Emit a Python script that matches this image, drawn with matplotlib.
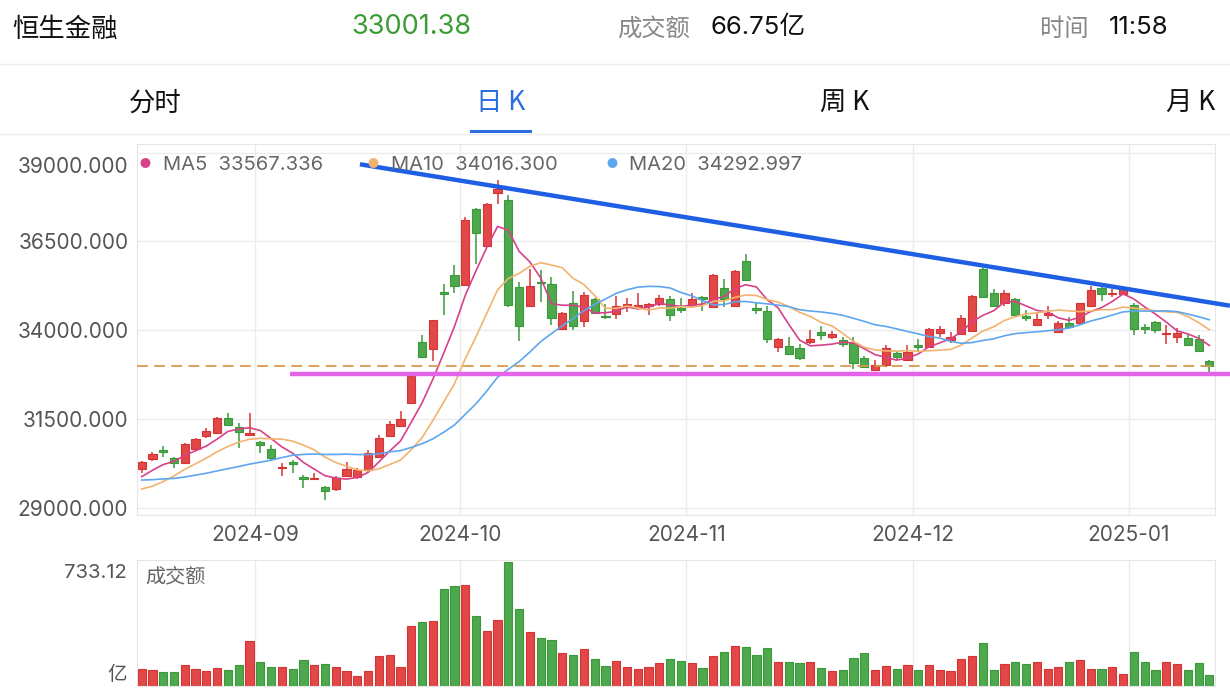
import numpy as np
import pandas as pd
import matplotlib
matplotlib.use("Agg")
import matplotlib.pyplot as plt
import matplotlib.transforms as mtransforms

plt.rcParams["font.family"] = ["Inter", "Noto Sans CJK SC", "DejaVu Sans"]
CJK = ["Noto Sans CJK SC", "DejaVu Sans"]

W, H = 1230, 694

# daily candles, 2024-08-16 .. 2025-01-13 (index based, no gaps)
opens = [30080, 30371, 30624, 30390, 30268, 30643, 31019, 31103, 31535, 31282,
         31056, 30859, 30653, 30108, 30277, 29873, 29798, 29592, 29526, 29892,
         29855, 30061, 30437, 31019, 31301, 31939, 33676, 33479, 35066, 35545,
         35273, 37423, 36381, 37855, 37667, 35226, 34690, 35348, 35301, 34033,
         34775, 34268, 34878, 34399, 34446, 34662, 34662, 34690, 34728, 34878,
         34615, 34690, 34944, 34662, 35179, 34690, 35958, 34615, 34540, 33535,
         33554, 33488, 33676, 33949, 33798, 33723, 33648, 33207, 32878, 33019,
         33348, 33160, 33573, 33535, 33930, 33723, 33892, 33977, 35723, 35057,
         34756, 34878, 34409, 34146, 34427, 33958, 34193, 34211, 34690, 35179,
         35019, 35010, 34709, 34080, 34240, 33892, 33817, 33770, 33751, 33141]
highs = [30324, 30559, 30737, 30437, 30812, 30953, 31235, 31545, 31657, 31376,
         31657, 30878, 30765, 30268, 30343, 29920, 29986, 29610, 29892, 30277,
         30108, 30624, 31047, 31451, 31732, 32784, 33864, 34286, 35301, 35827,
         37179, 37451, 37573, 38231, 37808, 35366, 35714, 35695, 35507, 34521,
         35113, 35085, 34897, 34728, 34963, 34897, 35038, 34775, 34991, 34963,
         34897, 35038, 34972, 35570, 35432, 35695, 36136, 34756, 34690, 33770,
         33817, 33601, 34005, 34118, 33977, 33817, 33817, 33273, 33160, 33582,
         33423, 33582, 33742, 34070, 34118, 33958, 34427, 34981, 35761, 35160,
         35132, 34897, 34568, 34474, 34690, 34258, 34380, 34775, 35244, 35226,
         35150, 35254, 34756, 34174, 34258, 34146, 34052, 33864, 33864, 33160]
lows = [29986, 30324, 30437, 30130, 30268, 30606, 30953, 31094, 31320, 30671,
        31038, 30531, 30324, 29892, 29986, 29545, 29798, 29216, 29479, 29873,
        29798, 30014, 30390, 31000, 31282, 31939, 33207, 33141, 34427, 35057,
        35273, 35864, 36381, 37545, 34662, 33695, 34690, 34803, 34136, 34005,
        34005, 34099, 34474, 34305, 34315, 34521, 34615, 34427, 34690, 34268,
        34484, 34662, 34550, 34662, 34662, 34662, 35394, 34446, 33629, 33395,
        33320, 33160, 33610, 33723, 33751, 33535, 32897, 32925, 32878, 32963,
        33160, 33141, 33423, 33535, 33817, 33629, 33864, 33939, 34925, 34662,
        34690, 34409, 34258, 34127, 34305, 33930, 34052, 34193, 34690, 34831,
        34925, 34991, 33864, 33892, 33911, 33610, 33629, 33564, 33395, 32737]
closes = [30296, 30502, 30559, 30249, 30784, 30925, 31169, 31535, 31329, 31122,
          31113, 30765, 30408, 30155, 30221, 29817, 29836, 29470, 29826, 30080,
          30061, 30531, 30953, 31357, 31488, 32718, 33254, 34277, 35010, 35244,
          37104, 36747, 37554, 37967, 34709, 34127, 35244, 35320, 34334, 34493,
          34118, 34991, 34493, 34362, 34690, 34737, 34718, 34728, 34916, 34427,
          34578, 34869, 34888, 35554, 34869, 35676, 35413, 34578, 33751, 33751,
          33329, 33207, 33751, 33855, 33892, 33610, 33085, 32953, 33019, 33488,
          33235, 33376, 33535, 34033, 34033, 33817, 34334, 34963, 34944, 34681,
          35038, 34427, 34334, 34305, 34474, 34193, 34080, 34756, 35132, 35019,
          35057, 35150, 34033, 34024, 34005, 33930, 33930, 33582, 33413, 33001.38]
# turnover, 亿
turnover = [99, 97, 81, 83, 121, 99, 89, 107, 93, 123,
            263, 143, 111, 111, 103, 155, 125, 129, 111, 87,
            61, 91, 174, 180, 111, 353, 380, 384, 571, 588,
            596, 412, 327, 388, 733.12, 456, 317, 283, 272, 192,
            184, 218, 162, 119, 145, 111, 99, 111, 137, 161,
            149, 133, 107, 174, 200, 238, 230, 180, 224, 143,
            139, 137, 139, 105, 91, 93, 168, 194, 95, 115,
            99, 123, 97, 123, 97, 91, 158, 174, 256, 97,
            129, 143, 127, 139, 101, 113, 139, 151, 101, 101,
            111, 71, 200, 139, 95, 143, 129, 97, 133, 66.75]
# closes before the window, only needed to start the moving averages
prev_closes = [30300, 30150, 29950, 30000, 29850, 30100, 30250, 30050, 29920, 29750,
               29700, 29250, 28700, 28900, 29344, 29600, 29750, 29800, 29920]

month_labels = ["2024-09", "2024-10", "2024-11", "2024-12", "2025-01"]
month_first_idx = [11, 30, 51, 72, 92]

legend_texts = ["MA5  33567.336", "MA10  34016.300", "MA20  34292.997"]

# hand drawn lines on the chart
trend_x = [20.24, 100.9]
trend_y = [38674, 34690]
support_level = 32758
support_x = [13.8, 100.9]

UP = "#e24848"
UP_EDGE = "#d43434"
DOWN = "#4ea84e"
DOWN_EDGE = "#3a9a3a"
MA_COLORS = ["#d8418a", "#f2b36e", "#5ea6ef"]


def fx(x):
    return x / W


def fy(y):
    return 1 - y / H


all_closes = pd.Series(prev_closes + closes)
n_prev = len(prev_closes)
ma = [all_closes.rolling(w).mean().values[n_prev:] for w in (5, 10, 20)]

o = np.array(opens)
c = np.array(closes)
idx = np.arange(len(closes))
up = c >= o
face = np.where(up, UP, DOWN)
edge = np.where(up, UP_EDGE, DOWN_EDGE)

fig = plt.figure(figsize=(W / 100, H / 100), dpi=100)

ax = fig.add_axes([fx(136.7), fy(515), fx(1215) - fx(136.7), fy(144) - fy(515)])
vax = fig.add_axes([fx(136.7), fy(686), fx(1215) - fx(136.7), fy(560) - fy(686)])

month_ticks = [i - 0.5 for i in month_first_idx]
x_lim = (-0.46, 99.52)

# candles
ax.vlines(idx, lows, highs, colors=edge, linewidth=1.1, zorder=2)
body = np.maximum(np.abs(c - o), 12)
ax.bar(idx, body, bottom=np.minimum(o, c), width=0.76, color=face,
       edgecolor=edge, linewidth=0.8, zorder=2)

for vals, col in zip(ma, MA_COLORS):
    ax.plot(idx, vals, color=col, linewidth=1.2, zorder=3)

ax.axhline(closes[-1], color="#d99a4c", linewidth=1.3, dashes=(6, 3.5), zorder=3)
ax.plot(support_x, [support_level, support_level], color="#e563e8",
        linewidth=3.2, solid_capstyle="butt", clip_on=False, zorder=4)
ax.plot(trend_x, trend_y, color="#1f5fe3", linewidth=3.2,
        solid_capstyle="butt", clip_on=False, zorder=4)

ax.set_xlim(*x_lim)
ax.set_ylim(28794, 39245)
ax.set_yticks([29000, 31500, 34000, 36500, 39000])
ax.set_yticklabels([f"{v:.3f}" for v in [29000, 31500, 34000, 36500, 39000]])
ax.set_xticks(month_ticks)
ax.set_xticklabels(month_labels)
ax.grid(True, color="#ececec", linewidth=1)
ax.set_axisbelow(True)
ax.tick_params(length=0, labelsize=15, labelcolor="#555555")
ax.tick_params(axis="y", pad=6)
ax.tick_params(axis="x", pad=7)
top_label = ax.get_yticklabels()[-1]
top_label.set_verticalalignment("top")
top_label.set_transform(top_label.get_transform()
                        + mtransforms.ScaledTranslation(0, -0.04, fig.dpi_scale_trans))
for s in ax.spines.values():
    s.set_color("#e6e6e6")

# legend of moving averages
for (dx, tx), txt, col in zip([(145, 163), (373, 391), (612, 629)], legend_texts, MA_COLORS):
    fig.text(fx(dx), fy(164), "●", color=col, fontsize=8, ha="center", va="center",
             family=CJK)
    fig.text(fx(tx), fy(165.5), txt, color="#666666", fontsize=14.5, ha="left", va="center")

# turnover bars
vax.bar(idx, turnover, width=0.76, color=face, edgecolor=edge, linewidth=0.8)
vax.set_xlim(*x_lim)
vax.set_ylim(0, 743)
vax.set_xticks(month_ticks)
vax.set_yticks([])
vax.tick_params(length=0, labelbottom=False)
vax.grid(True, axis="x", color="#ececec", linewidth=1)
vax.set_axisbelow(True)
for s in vax.spines.values():
    s.set_color("#e6e6e6")
fig.text(fx(127), fy(573), f"{max(turnover):.2f}", color="#555555", fontsize=14.5,
         ha="right", va="center")
fig.text(fx(127), fy(675), "亿", color="#555555", fontsize=14, ha="right", va="center",
         family=CJK)
fig.text(fx(145), fy(577), "成交额", color="#666666", fontsize=14.5, ha="left", va="center",
         family=CJK)

# header
fig.text(fx(12), fy(29), "恒生金融", color="#111111", fontsize=19, ha="left", va="center",
         family=CJK)
fig.text(fx(411), fy(27), f"{closes[-1]:.2f}", color="#3c9c34", fontsize=19.5,
         ha="center", va="center")
fig.text(fx(617), fy(29), "成交额", color="#888888", fontsize=17.5, ha="left", va="center",
         family=CJK)
fig.text(fx(711), fy(27.5), "66.75亿", color="#111111", fontsize=18.5, ha="left", va="center")
fig.text(fx(1040), fy(29), "时间", color="#888888", fontsize=17.5, ha="left", va="center",
         family=CJK)
fig.text(fx(1109), fy(27), "11:58", color="#111111", fontsize=18.5, ha="left", va="center")
fig.add_artist(plt.Line2D([0, 1], [fy(64), fy(64)], color="#eeeeee", linewidth=1))

tabs = ["分时", "日 K", "周 K", "月 K"]
tab_x = [155, 501, 845, 1191]
for t, x in zip(tabs, tab_x):
    col = "#2a6ee0" if t == "日 K" else "#111111"
    fig.text(fx(x), fy(103), t, color=col, fontsize=19, ha="center", va="center",
             family=CJK)
fig.add_artist(plt.Line2D([fx(471), fx(530)], [fy(131), fy(131)], color="#2a6ee0",
                          linewidth=2.2))
fig.add_artist(plt.Line2D([0, 1], [fy(134), fy(134)], color="#eeeeee", linewidth=1))

fig.savefig("out.png", dpi=100, facecolor="white")
